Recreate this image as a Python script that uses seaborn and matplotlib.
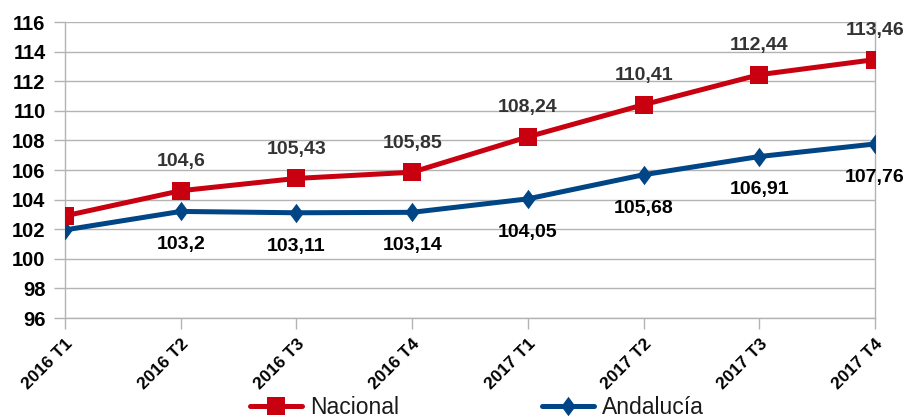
import matplotlib
matplotlib.use("Agg")
import matplotlib.pyplot as plt
import seaborn as sns
import pandas as pd
from matplotlib.path import Path

periods = ["2016 T1", "2016 T2", "2016 T3", "2016 T4", "2017 T1", "2017 T2", "2017 T3", "2017 T4"]
nacional = [102.9, 104.6, 105.43, 105.85, 108.24, 110.41, 112.44, 113.46]
andalucia = [101.95, 103.2, 103.11, 103.14, 104.05, 105.68, 106.91, 107.76]
nacional_labels = ["", "104,6", "105,43", "105,85", "108,24", "110,41", "112,44", "113,46"]
andalucia_labels = ["", "103,2", "103,11", "103,14", "104,05", "105,68", "106,91", "107,76"]
y_ticks = list(range(96, 117, 2))

sns.set_theme(style="white")
plt.rcParams["font.family"] = ["Liberation Sans", "DejaVu Sans"]

RED = "#C8000F"
BLUE = "#004586"
diamond = Path([(0, 1), (0.74, 0), (0, -1), (-0.74, 0), (0, 1)],
               [Path.MOVETO, Path.LINETO, Path.LINETO, Path.LINETO, Path.CLOSEPOLY])

fig = plt.figure(figsize=(9.09, 4.2), dpi=100)
ax = fig.add_axes([65 / 909, 1 - 318 / 420, (875 - 65) / 909, (318 - 22) / 420])

df_n = pd.DataFrame({"Periodo": periods, "Valor": nacional})
df_a = pd.DataFrame({"Periodo": periods, "Valor": andalucia})

sns.lineplot(data=df_n, x="Periodo", y="Valor", ax=ax, color=RED, linewidth=3.6,
             marker="s", markersize=13, markeredgewidth=0, label="Nacional", sort=False, zorder=4)
sns.lineplot(data=df_a, x="Periodo", y="Valor", ax=ax, color=BLUE, linewidth=3.6,
             marker=diamond, markersize=14, markeredgewidth=0, label="Andalucía", sort=False, zorder=3)

for i, (v, t) in enumerate(zip(nacional, nacional_labels)):
    if t:
        ax.annotate(t, (i, v), xytext=(0, 21), textcoords="offset points", ha="center", va="center",
                    fontsize=14, fontweight="bold", color="#333333", annotation_clip=False)
for i, (v, t) in enumerate(zip(andalucia, andalucia_labels)):
    if t:
        ax.annotate(t, (i, v), xytext=(0, -24), textcoords="offset points", ha="center", va="center",
                    fontsize=14, fontweight="bold", color="#000000", annotation_clip=False)

ax.set_xlim(0, len(periods) - 1)
ax.set_ylim(96, 116)
ax.set_yticks(y_ticks)
ax.set_yticklabels([str(t) for t in y_ticks], fontsize=14.5, fontweight="bold", color="#000000")
ax.set_xticks(range(len(periods)))
ax.set_xticklabels(periods, rotation=45, ha="right", rotation_mode="anchor",
                   fontsize=12.5, fontweight="bold", color="#000000")
ax.set_xlabel("")
ax.set_ylabel("")

ax.yaxis.grid(True, color="#b3b3b3", linewidth=1)
ax.xaxis.grid(False)
ax.tick_params(axis="both", which="major", length=8, width=1, color="#b3b3b3", direction="out",
               bottom=True, left=True)
ax.tick_params(axis="y", pad=6)
ax.tick_params(axis="x", pad=5)
for side in ["left", "right", "bottom"]:
    ax.spines[side].set_visible(True)
    ax.spines[side].set_color("#b3b3b3")
    ax.spines[side].set_linewidth(1)
ax.spines["top"].set_visible(False)

handles, labels = ax.get_legend_handles_labels()
ax.get_legend().remove()
fig.legend(handles, labels, loc="center", bbox_to_anchor=(477 / 909, 1 - 408 / 420), ncol=2,
           frameon=False, fontsize=16.5, handlelength=2.3, handletextpad=0.35, columnspacing=6.2,
           labelcolor="#1a1a1a")

fig.savefig("out.png", dpi=100)
